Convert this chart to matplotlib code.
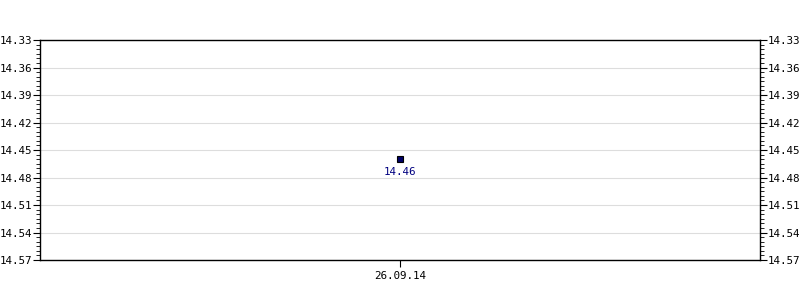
import matplotlib
matplotlib.use("Agg")
import matplotlib.pyplot as plt
from matplotlib.ticker import MultipleLocator

#   single quote point, inverted price axis

dates = ["26.09.14"]
prices = [14.46]
y_ticks = [14.33, 14.36, 14.39, 14.42, 14.45, 14.48, 14.51, 14.54, 14.57]

plt.rcParams['font.family'] = ['DejaVu Sans Mono']

fig = plt.figure(figsize=(8, 3), dpi=100)
ax = fig.add_axes([0.05, 0.1333, 0.9, 0.7333])

xs = list(range(len(dates)))
ax.plot(xs, prices, 's', markersize=4.5, markerfacecolor='#000066',
        markeredgecolor='black', markeredgewidth=0.8, zorder=3)
for x, p in zip(xs, prices):
	ax.annotate("%.2f" % p, (x, p), xytext=(0, -5.5), textcoords='offset points',
		ha='center', va='top', color='#000080', fontsize=7.8)

ax.set_xlim(-1, 1)
ax.set_ylim(y_ticks[-1], y_ticks[0])
ax.set_xticks(xs)
ax.set_xticklabels(dates)
ax.set_yticks(y_ticks)
ax.set_yticklabels(["%.2f" % t for t in y_ticks])
ax.yaxis.set_minor_locator(MultipleLocator(0.005))

ax.grid(axis='y', color='#dddddd', linewidth=0.8)
ax.set_axisbelow(True)

ax.tick_params(axis='y', which='both', left=True, right=True, labelleft=True, labelright=True,
               direction='out', labelsize=7.8, pad=0.5)
ax.tick_params(axis='y', which='major', length=5)
ax.tick_params(axis='y', which='minor', length=3)
ax.tick_params(axis='x', direction='out', length=5, labelsize=7.8, pad=3)

for s in ax.spines.values():
	s.set_color('black')
	s.set_linewidth(1)

fig.savefig("out.png", dpi=100)
